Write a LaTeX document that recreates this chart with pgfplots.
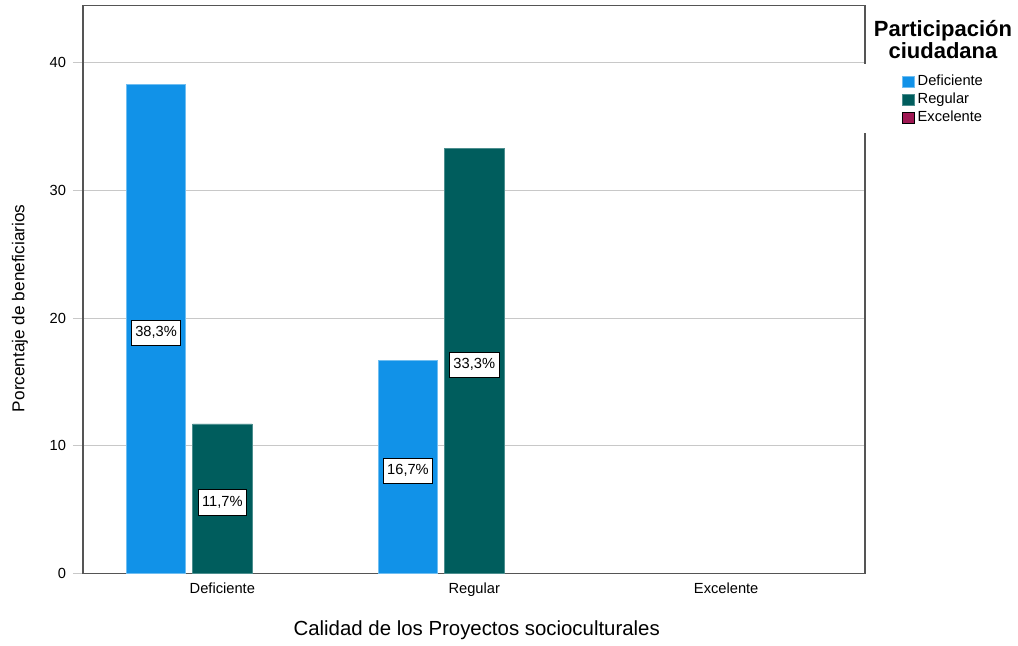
\documentclass[border=0pt]{standalone}
\usepackage{fontspec}
\setmainfont{Liberation Sans}
\usepackage{pgfplots}
\pgfplotsset{compat=1.18}
\definecolor{cBlue}{HTML}{1192E8}
\definecolor{cTeal}{HTML}{005D5D}
\definecolor{cMag}{HTML}{9F1853}
\definecolor{frameC}{HTML}{555555}
\definecolor{gridC}{HTML}{C8C8C8}
\pgfplotsset{
  sqlegend/.style={legend image code/.code={\fill[##1] (0pt,-4.3pt) rectangle (8.8pt,4.3pt);}}
}
\begin{document}
\begin{tikzpicture}
\begin{axis}[
  scale only axis, width=586.5pt, height=425.7pt,
  xmin=-0.553, xmax=2.551, ymin=0, ymax=44.47,
  ybar, bar width=0.236,
  xtick={0,1,2}, xticklabels={Deficiente,Regular,Excelente},
  ytick={0,10,20,30,40},
  xtick style={draw=none},
  ytick style={draw=gridC, line width=0.75pt},
  ytick pos=left, xtick pos=bottom,
  tick align=outside, major tick length=7.5pt,
  ymajorgrids, grid style={gridC, line width=0.75pt},
  axis line style={frameC, line width=1pt},
  /pgf/number format/assume math mode=true,
  tick label style={font=\fontsize{11}{13}\selectfont, text=black},
  yticklabel style={anchor=east, inner sep=0pt},
  yticklabel shift=5pt,
  xticklabel style={anchor=north, inner sep=0pt},
  xticklabel shift=-0.5pt,
  ylabel={Porcentaje de beneficiarios},
  ylabel style={at={(axis description cs:-0.0806,0.467)}, anchor=center, inner sep=0pt, font=\fontsize{12.9}{15}\selectfont},
  xlabel={Calidad de los Proyectos socioculturales},
  xlabel style={at={(axis description cs:0.5035,0)}, anchor=north, yshift=-35pt, inner sep=0pt, font=\fontsize{15.3}{17}\selectfont},
  nodes near coords={\pgfmathprintnumber[fixed, fixed zerofill, precision=1, use comma, assume math mode=true]{\pgfplotspointmeta}\%},
  visualization depends on=y \as \rawy,
  every node near coord/.append style={anchor=center, shift={(axis direction cs:0,-\rawy/2)}, yshift=-3pt, fill=white, draw=black, line width=0.6pt, text=black, inner xsep=3pt, inner ysep=4.5pt, text height=8pt, text depth=2.2pt, font=\fontsize{11}{13}\selectfont},
  legend style={at={(axis description cs:1.0469,0.8815)}, anchor=north west, draw=none, fill=none, inner sep=0pt, font=\fontsize{11}{13}\selectfont, row sep=1.1pt, column sep=1.5pt, nodes={inner sep=1pt, text height=8.2pt, text depth=2.3pt}},
  legend cell align=left,
]
\addplot[sqlegend, fill=cBlue, draw=cBlue!60!white, line width=0.5pt, bar shift=-0.263] coordinates {(0,38.3) (1,16.7)};
\addplot[sqlegend, fill=cTeal, draw=cTeal!70!white, line width=0.5pt, bar shift=0] coordinates {(0,11.7) (1,33.3)};
\addlegendimage{sqlegend, fill=cMag}
\legend{Deficiente,Regular,Excelente}
\coordinate (SW) at (rel axis cs:0,0);
\coordinate (NE) at (rel axis cs:1,1);
\coordinate (G1) at (axis cs:2.551,39.9);
\coordinate (G2) at (axis cs:2.551,34.47);
\coordinate (T) at (rel axis cs:1.0997,0.9748);
\end{axis}
\draw[white, line width=2pt] (G1) -- (G2);
\node[anchor=north, inner sep=0pt, align=center, font=\bfseries\fontsize{16.5}{15}\selectfont] at (T) {Participación\\ciudadana};
\pgfresetboundingbox
\path[use as bounding box] ([xshift=-62.25pt, yshift=-53.8pt]SW) rectangle ([xshift=114.75pt, yshift=4.3pt]NE);
\end{tikzpicture}
\end{document}
